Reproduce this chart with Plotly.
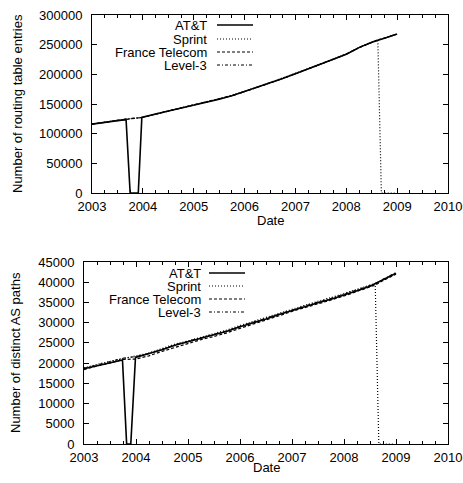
import plotly.graph_objects as go

# ---------------- data (decimal years) ----------------
# Top panel: number of routing table entries
rt_dates = [2003.0, 2003.25, 2003.5, 2003.67, 2003.98, 2004.25, 2004.5, 2004.75,
            2005.0, 2005.25, 2005.5, 2005.75, 2006.0, 2006.25, 2006.5, 2006.75,
            2007.0, 2007.25, 2007.5, 2007.75, 2008.0, 2008.25, 2008.5, 2008.62,
            2008.75, 2009.0]

# AT&T outage (top)
att_rt_dates = [2003.0, 2003.25, 2003.5, 2003.67, 2003.75, 2003.91, 2003.98, 2004.25,
                2004.5, 2004.75, 2005.0, 2005.25, 2005.5, 2005.75, 2006.0, 2006.25,
                2006.5, 2006.75, 2007.0, 2007.25, 2007.5, 2007.75, 2008.0, 2008.25,
                2008.5, 2008.75, 2009.0]
att_rt = [116000, 119500, 122000, 123500, 0, 0, 127500, 133000,
          138000, 143000, 147500, 153000, 158000, 164000, 171000, 178000,
          186000, 193000, 201000, 209000, 217000, 225000, 234000, 245000,
          254000, 261000, 268000]

# Sprint (top) with drop at end of 2008
sprint_rt_dates = [2003.0, 2003.25, 2003.5, 2003.67, 2003.98, 2004.25, 2004.5, 2004.75,
                   2005.0, 2005.25, 2005.5, 2005.75, 2006.0, 2006.25, 2006.5, 2006.75,
                   2007.0, 2007.25, 2007.5, 2007.75, 2008.0, 2008.25, 2008.5, 2008.62,
                   2008.69, 2008.95]
sprint_rt = [116200, 119700, 122300, 124500, 127000, 133300, 138200, 143300,
             147700, 153200, 158300, 164300, 171200, 178300, 186200, 193300,
             201300, 209200, 217300, 225300, 234300, 245300, 254300, 258300,
             0, 0]

ft_rt = [116100, 119400, 122100, 124000, 127300, 132800, 137800, 142900,
         147400, 152900, 157900, 163900, 170900, 177900, 185800, 192900,
         200900, 208900, 216900, 224900, 233900, 244900, 253900, 257900,
         260900, 267900]
l3_rt = [116000, 119600, 122200, 124800, 127600, 133200, 138100, 143200,
         147600, 153100, 158100, 164100, 171100, 178100, 186100, 193100,
         201100, 209100, 217100, 225100, 234100, 245100, 254100, 258100,
         261100, 268100]

# Bottom panel: number of distinct AS paths
as_dates = [2003.0, 2003.25, 2003.5, 2003.74, 2003.99, 2004.25, 2004.5, 2004.75,
            2005.0, 2005.25, 2005.5, 2005.75, 2006.0, 2006.25, 2006.5, 2006.75,
            2007.0, 2007.25, 2007.5, 2007.75, 2008.0, 2008.25, 2008.5, 2008.6,
            2008.75, 2009.0]
att_as_dates = [2003.0, 2003.25, 2003.5, 2003.74, 2003.82, 2003.9, 2003.99, 2004.25,
                2004.5, 2004.75, 2005.0, 2005.25, 2005.5, 2005.75, 2006.0, 2006.25,
                2006.5, 2006.75, 2007.0, 2007.25, 2007.5, 2007.75, 2008.0, 2008.25,
                2008.5, 2008.75, 2009.0]
att_as = [18600, 19400, 20100, 20800, 0, 0, 21400, 22300,
          23300, 24400, 25300, 26200, 27000, 27900, 29000, 29900,
          30900, 32000, 33000, 33900, 34900, 35800, 36800, 37900,
          39000, 40500, 42200]
sprint_as_dates = [2003.0, 2003.25, 2003.5, 2003.74, 2003.99, 2004.25, 2004.5, 2004.75,
                   2005.0, 2005.25, 2005.5, 2005.75, 2006.0, 2006.25, 2006.5, 2006.75,
                   2007.0, 2007.25, 2007.5, 2007.75, 2008.0, 2008.25, 2008.5, 2008.6,
                   2008.67, 2008.95]
sprint_as = [18800, 19700, 20400, 21100, 21700, 22500, 23600, 24700,
             25500, 26400, 27200, 28200, 29300, 30300, 31300, 32400,
             33400, 34300, 35300, 36200, 37200, 38300, 39300, 39700,
             0, 0]
ft_as = [18400, 19300, 20000, 20900, 21000, 21800, 22900, 23900,
         24900, 25800, 26600, 27500, 28600, 29600, 30600, 31700,
         32800, 33700, 34600, 35600, 36600, 37700, 38800, 39300,
         40400, 42000]
l3_as = [18700, 19500, 20300, 21200, 21600, 22400, 23400, 24500,
         25400, 26300, 27100, 28000, 29100, 30100, 31100, 32200,
         33200, 34100, 35100, 36000, 37000, 38100, 39200, 39600,
         40700, 42400]

year_ticks = [2003, 2004, 2005, 2006, 2007, 2008, 2009, 2010]
rt_ticks = [0, 50000, 100000, 150000, 200000, 250000, 300000]
as_ticks = [0, 5000, 10000, 15000, 20000, 25000, 30000, 35000, 40000, 45000]
series_names = ["AT&T", "Sprint", "France Telecom", "Level-3"]
series_dash = ["solid", "1px,2px", "3px,2px", "3px,2px,1px,2px"]
series_width = [1.6, 1.2, 1.2, 1.2]

FONT = "Liberation Sans, Arial, Helvetica, sans-serif"
W, H = 463, 483

fig = go.Figure()

top_sets = [(att_rt_dates, att_rt), (sprint_rt_dates, sprint_rt), (rt_dates, ft_rt), (rt_dates, l3_rt)]
bot_sets = [(att_as_dates, att_as), (sprint_as_dates, sprint_as), (as_dates, ft_as), (as_dates, l3_as)]

for i, (xs, ys) in enumerate(top_sets):
    fig.add_trace(go.Scatter(x=xs, y=ys, mode="lines", name=series_names[i], showlegend=False,
                             line=dict(color="black", width=series_width[i], dash=series_dash[i]),
                             xaxis="x", yaxis="y"))
for i, (xs, ys) in enumerate(bot_sets):
    fig.add_trace(go.Scatter(x=xs, y=ys, mode="lines", name=series_names[i], showlegend=False,
                             line=dict(color="black", width=series_width[i], dash=series_dash[i]),
                             xaxis="x2", yaxis="y2"))

def px_x(p):
    return p / W

def px_y(p):
    return 1 - p / H

axis_common = dict(showline=True, linecolor="black", linewidth=1, mirror="allticks",
                   ticks="inside", ticklen=5, tickcolor="black", tickwidth=1,
                   showgrid=False, zeroline=False, automargin=False,
                   tickfont=dict(family=FONT, size=13, color="black"))

xcommon = dict(axis_common, range=[2003, 2010], tickmode="array", tickvals=year_ticks,
               ticktext=[str(y) for y in year_ticks], ticklabelstandoff=1,
               minor=dict(ticks="inside", ticklen=3, tickcolor="black", dtick=0.25, tick0=2003, showgrid=False))

fig.update_layout(
    width=W, height=H,
    margin=dict(l=0, r=0, t=0, b=0, autoexpand=False),
    paper_bgcolor="white", plot_bgcolor="white",
    showlegend=False,
    xaxis=dict(xcommon, domain=[px_x(92), px_x(448)], anchor="y"),
    yaxis=dict(axis_common, domain=[px_y(193), px_y(15)], range=[0, 300000], ticklabelstandoff=6,
               tickmode="array", tickvals=rt_ticks, ticktext=[str(t) for t in rt_ticks], anchor="x"),
    xaxis2=dict(xcommon, domain=[px_x(84), px_x(448)], anchor="y2"),
    yaxis2=dict(axis_common, domain=[px_y(444), px_y(262)], range=[0, 45000], ticklabelstandoff=6,
                tickmode="array", tickvals=as_ticks, ticktext=[str(t) for t in as_ticks], anchor="x2"),
)

annotations = []
shapes = []

# y-axis titles and x-axis titles
annotations.append(dict(text="Number of routing table entries", x=px_x(17), y=px_y(104),
                        xref="paper", yref="paper", textangle=-90, showarrow=False,
                        xanchor="center", yanchor="middle", font=dict(family=FONT, size=13, color="black")))
annotations.append(dict(text="Number of distinct AS paths", x=px_x(15), y=px_y(353),
                        xref="paper", yref="paper", textangle=-90, showarrow=False,
                        xanchor="center", yanchor="middle", font=dict(family=FONT, size=13, color="black")))
annotations.append(dict(text="Date", x=px_x(270), y=px_y(220), xref="paper", yref="paper",
                        showarrow=False, xanchor="center", yanchor="middle",
                        font=dict(family=FONT, size=13, color="black")))
annotations.append(dict(text="Date", x=px_x(266), y=px_y(467), xref="paper", yref="paper",
                        showarrow=False, xanchor="center", yanchor="middle",
                        font=dict(family=FONT, size=13, color="black")))

# gnuplot-style keys (text right-aligned, sample to the right)
def add_key(text_right, x0, x1, ys):
    for i, name in enumerate(series_names):
        annotations.append(dict(text=name, x=px_x(text_right), y=px_y(ys[i]), xref="paper", yref="paper",
                                showarrow=False, xanchor="right", yanchor="middle", borderpad=0,
                                font=dict(family=FONT, size=13, color="black")))
        shapes.append(dict(type="line", xref="paper", yref="paper",
                           x0=px_x(x0), x1=px_x(x1), y0=px_y(ys[i]), y1=px_y(ys[i]),
                           line=dict(color="black", width=series_width[i], dash=series_dash[i])))

add_key(208, 217, 253, [25, 39, 52, 65])
add_key(202, 209, 245, [273, 286, 299, 312])

fig.update_layout(annotations=annotations, shapes=shapes)

fig.write_html("out.html",
               config={"displayModeBar": False},
               post_script="document.body.style.margin='0';document.body.style.padding='0';"
                           "document.documentElement.style.overflow='hidden';")
